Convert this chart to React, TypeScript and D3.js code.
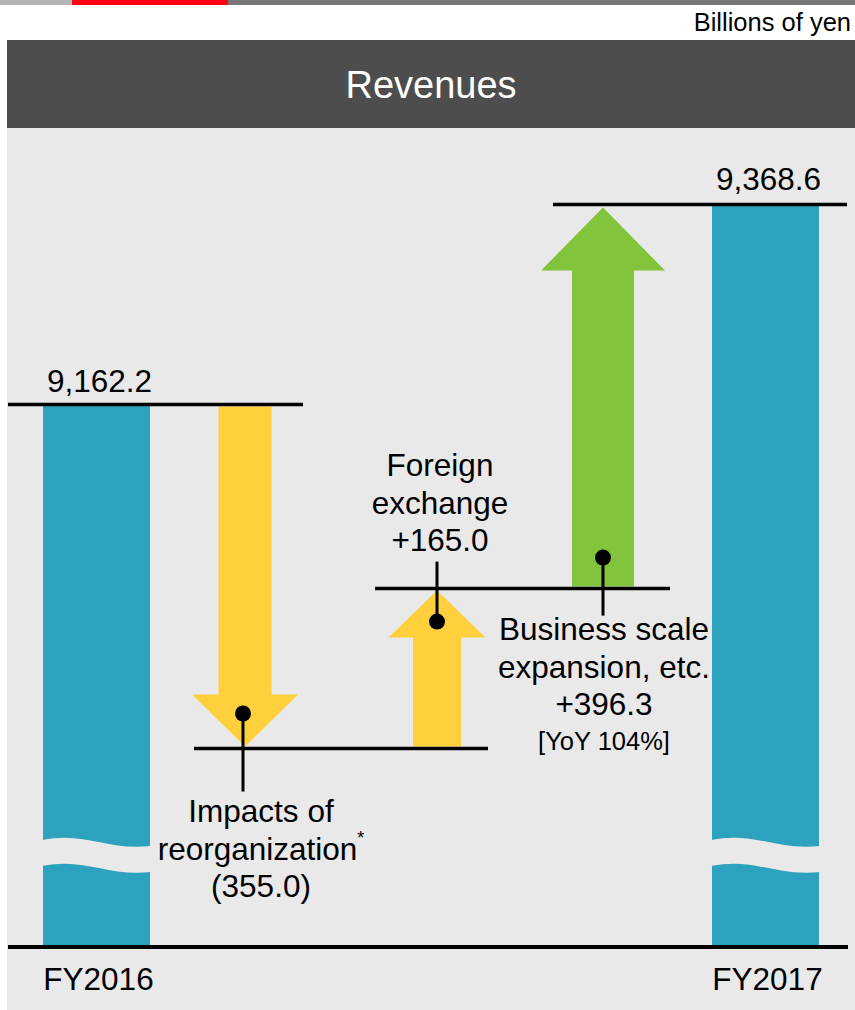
import React from "react";
import * as d3 from "d3";

// ---- data ----
const categories = ["FY2016", "reorg", "fx", "business", "FY2017"];
const totals = { start: 9162.2, end: 9368.6 };
const stepKeys = ["reorg", "fx", "business"];
const stepValues = [-355.0, 165.0, 396.3];
const stepLabels = [
  ["Impacts of", "reorganization", "(355.0)"],
  ["Foreign", "exchange", "+165.0"],
  ["Business scale", "expansion, etc.", "+396.3", "[YoY 104%]"],
];
const totalLabels = ["9,162.2", "9,368.6"];
const axisLabels = ["FY2016", "FY2017"];
const unitLabel = "Billions of yen";
const titleText = "Revenues";

// ---- styles / layout ----
const W = 855;
const H = 1010;
const FONT = "Arial, 'Liberation Sans', Helvetica, sans-serif";
const C = {
  bg: "#e9e9e9",
  header: "#4d4d4d",
  bar: "#2ca2bf",
  yellow: "#ffcf3c",
  green: "#82c43c",
  ink: "#000000",
};
const baseY = 947;
const barW = 107;
const arrowStyle = {
  reorg: { sw: 53, hw: 106, hh: 52, color: C.yellow },
  fx: { sw: 48, hw: 97, hh: 47, color: C.yellow },
  business: { sw: 62, hw: 124, hh: 63, color: C.green },
};

export default function App() {
  const x = d3
    .scaleOrdinal<string, number>()
    .domain(categories)
    .range([96.5, 245, 437, 603, 765.5]);
  const y = d3.scaleLinear().domain([8807.2, 9368.6]).range([748.5, 204.5]);

  // cumulative levels
  const levels: number[] = [totals.start];
  stepValues.forEach((v) => levels.push(levels[levels.length - 1] + v));

  const arrowPath = (cx: number, yFrom: number, yTo: number, s: { sw: number; hw: number; hh: number }) => {
    const dir = yTo < yFrom ? 1 : -1; // 1 = up
    const neck = yTo + dir * s.hh;
    const p = d3.path();
    p.moveTo(cx - s.sw / 2, yFrom);
    p.lineTo(cx - s.sw / 2, neck);
    p.lineTo(cx - s.hw / 2, neck);
    p.lineTo(cx, yTo);
    p.lineTo(cx + s.hw / 2, neck);
    p.lineTo(cx + s.sw / 2, neck);
    p.lineTo(cx + s.sw / 2, yFrom);
    p.closePath();
    return p.toString();
  };

  const wavePath = (x0: number, x1: number, top: number, gap: number) => {
    const w = x1 - x0;
    const p = d3.path();
    p.moveTo(x0 - 1, top);
    p.bezierCurveTo(x0 + 0.4 * w, top - 9, x0 + 0.6 * w, top + 11, x1 + 1, top + 6);
    p.lineTo(x1 + 1, top + 6 + gap);
    p.bezierCurveTo(x0 + 0.6 * w, top + 11 + gap, x0 + 0.4 * w, top - 9 + gap, x0 - 1, top + gap);
    p.closePath();
    return p.toString();
  };

  // level lines extents (x from, x to)
  const lineExt = [
    [8, 303],
    [194, 488],
    [375, 670],
    [553, 847],
  ];
  const lineLevels = [totals.start, levels[1], levels[2], totals.end];

  const totalKeys = ["FY2016", "FY2017"];
  const totalVals = [totals.start, totals.end];

  const leaders = [
    { dotY: y(levels[1]) - 35, endY: y(levels[1]) + 43 },
    { dotY: y(levels[2]) + 33, endY: y(levels[2]) - 27 },
    { dotY: y(levels[2]) - 31, endY: y(levels[2]) + 27 },
  ];
  const labelPos = [
    { cx: 261, y0: 822 },
    { cx: 440, y0: 476 },
    { cx: 604, y0: 640 },
  ];
  const lh = 37.5;

  return (
    <svg
      width={W}
      height={H}
      style={{ position: "absolute", left: 0, top: 0 }}
      fontFamily={FONT}
    >
      <rect x={0} y={0} width={W} height={H} fill="#ffffff" />
      {/* top strip */}
      <rect x={0} y={0} width={72} height={5} fill="#b3b3b3" />
      <rect x={72} y={0} width={156} height={5} fill="#ff0015" />
      <rect x={228} y={0} width={W - 228} height={5} fill="#777777" />
      <text x={851} y={31} textAnchor="end" fontSize={25.5} fill={C.ink}>
        {unitLabel}
      </text>
      {/* header */}
      <rect x={7} y={40} width={W - 7} height={88} fill={C.header} />
      <text x={431} y={98} textAnchor="middle" fontSize={38} fill="#ffffff">
        {titleText}
      </text>
      {/* panel */}
      <rect x={7} y={128} width={W - 7} height={H - 128} fill={C.bg} />

      {/* total bars */}
      {totalKeys.map((k, i) => {
        const cx = x(k);
        const top = y(totalVals[i]);
        return (
          <g key={k}>
            <rect x={cx - barW / 2} y={top} width={barW} height={baseY - top} fill={C.bar} />
            <path d={wavePath(cx - barW / 2, cx + barW / 2, 840, 26)} fill={C.bg} />
            <text x={cx + 3} y={top - (i === 0 ? 13 : 15)} textAnchor="middle" fontSize={31.5} fill={C.ink}>
              {totalLabels[i]}
            </text>
            <text x={cx + 2} y={990} textAnchor="middle" fontSize={31.5} fill={C.ink}>
              {axisLabels[i]}
            </text>
          </g>
        );
      })}

      {/* step arrows */}
      {stepKeys.map((k, i) => {
        const s = arrowStyle[k as keyof typeof arrowStyle];
        const from = y(levels[i]);
        const to = y(levels[i + 1]);
        const dir = to < from ? 1 : -1;
        const tipY = k === "business" ? y(totals.end) + 3 : to + dir * 2;
        return (
          <path key={k} d={arrowPath(x(k), from - dir * 2, tipY, s)} fill={s.color} />
        );
      })}

      {/* level lines */}
      {lineLevels.map((v, i) => (
        <line
          key={i}
          x1={lineExt[i][0]}
          x2={lineExt[i][1]}
          y1={y(v)}
          y2={y(v)}
          stroke={C.ink}
          strokeWidth={3.5}
        />
      ))}
      <line x1={8} x2={848} y1={baseY} y2={baseY} stroke={C.ink} strokeWidth={4} />

      {/* leaders and dots */}
      {stepKeys.map((k, i) => {
        const cx = x(k) - (k === "reorg" ? 2 : 0);
        const l = leaders[i];
        return (
          <g key={k}>
            <line x1={cx} x2={cx} y1={l.dotY} y2={l.endY} stroke={C.ink} strokeWidth={3} />
            <circle cx={cx} cy={l.dotY} r={8} fill={C.ink} />
          </g>
        );
      })}

      {/* step labels */}
      {stepKeys.map((k, i) => {
        const p = labelPos[i];
        return (
          <g key={k}>
            {stepLabels[i].map((t, j) => {
              const small = t.startsWith("[");
              return (
                <text
                  key={j}
                  x={p.cx}
                  y={p.y0 + j * lh - (small ? 3 : 0)}
                  textAnchor="middle"
                  fontSize={small ? 25.5 : 31.5}
                  fill={C.ink}
                >
                  {t}
                  {k === "reorg" && j === 1 ? (
                    <tspan fontSize={18} dy={-16}>
                      *
                    </tspan>
                  ) : null}
                </text>
              );
            })}
          </g>
        );
      })}
    </svg>
  );
}
